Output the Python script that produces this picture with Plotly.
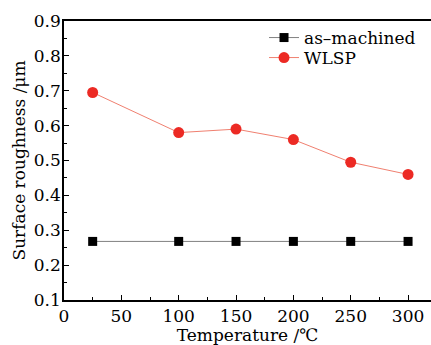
import plotly.graph_objects as go

temps = [25, 100, 150, 200, 250, 300]
as_machined = [0.268, 0.268, 0.268, 0.268, 0.268, 0.268]
wlsp = [0.695, 0.58, 0.59, 0.56, 0.495, 0.46]

FONT = "DejaVu Serif"

fig = go.Figure()
fig.add_trace(go.Scatter(
    x=temps, y=as_machined, mode="lines+markers", name="as\u2013machined",
    line=dict(color="#808080", width=1),
    marker=dict(symbol="square", size=9, color="black"),
    legend="legend",
))
fig.add_trace(go.Scatter(
    x=temps, y=wlsp, mode="lines+markers", name="WLSP",
    line=dict(color="#f08070", width=1),
    marker=dict(symbol="circle", size=11, color="#ec2a24"),
    legend="legend2",
))

leg_common = dict(xanchor="left", yanchor="middle", bgcolor="rgba(0,0,0,0)",
                  font=dict(size=17), itemwidth=30)

fig.update_layout(
    width=431, height=345,
    margin=dict(l=64, r=0, t=21, b=45, autoexpand=False),
    paper_bgcolor="white", plot_bgcolor="white",
    font=dict(family=FONT, size=17, color="black"),
    showlegend=True,
    legend=dict(x=0.545, y=1 - (38 - 21) / 279, **leg_common),
    legend2=dict(x=0.545, y=1 - (58 - 21) / 279, **leg_common),
    xaxis=dict(
        range=[0, 320], tickvals=[0, 50, 100, 150, 200, 250, 300],
        showgrid=False, zeroline=False, automargin=False,
        showline=True, linecolor="black", linewidth=1.5, mirror=True,
        ticks="inside", ticklen=5, tickcolor="black",
        minor=dict(ticks="inside", ticklen=3, dtick=25, tickcolor="black"),
        title=dict(text="Temperature /\u2103", standoff=2, font=dict(size=17)),
        tickfont=dict(size=17),
    ),
    yaxis=dict(
        range=[0.1, 0.9], dtick=0.1, tickformat=".1f",
        showgrid=False, zeroline=False, automargin=False,
        showline=True, linecolor="black", linewidth=1.5, mirror=False,
        ticks="inside", ticklen=5, tickcolor="black",
        minor=dict(ticks="inside", ticklen=3, dtick=0.05, tickcolor="black"),
        ticklabelstandoff=-2,
        title=dict(text="Surface roughness /\u03bcm", standoff=4, font=dict(size=17)),
        tickfont=dict(size=17),
    ),
)

fig.write_html("out.html", config={"displayModeBar": False},
               post_script="document.body.style.margin='0px';document.body.style.overflow='hidden';")
